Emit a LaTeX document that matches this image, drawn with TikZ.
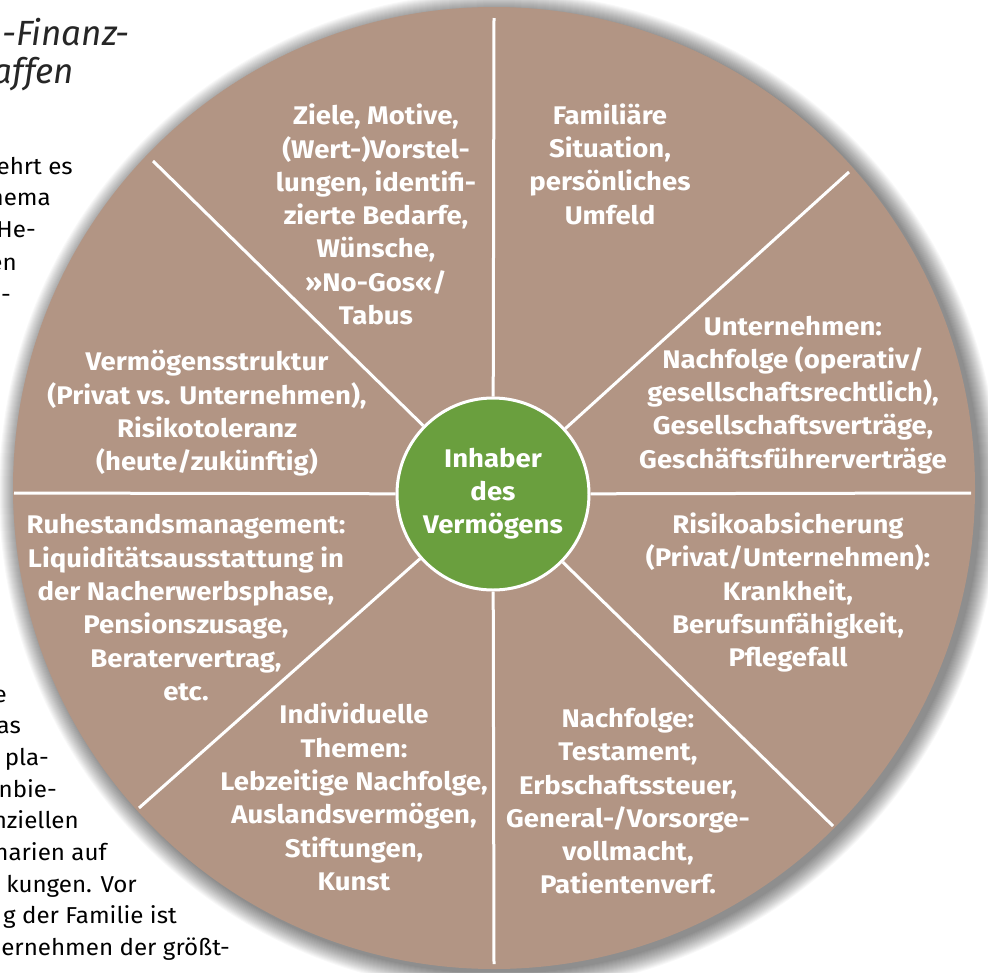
\documentclass[tikz,border=0pt]{standalone}
\usepackage{fontspec}
\setmainfont{Fira Sans}
\newfontfamily\segff[FakeStretch=1.08]{Fira Sans}
\newfontfamily\bodyff[FakeStretch=1.05]{Fira Sans}
\definecolor{brownfill}{RGB}{178,149,132}
\definecolor{hubgreen}{RGB}{106,159,62}
\newcommand\segfont{\segff\bfseries\fontsize{25.5}{33.3}\selectfont}
\newcommand\bodyfont{\bodyff\fontsize{23}{32}\selectfont}
\newcommand\headfont{\itshape\fontsize{35}{38}\selectfont}
\begin{document}
\begin{tikzpicture}[x=1pt,y=-1pt,
  seg/.style={align=center,text=white,font=\segfont,inner sep=0pt},
  spoke/.style={draw=white,line width=3pt},
  frag/.style={anchor=base east,font=\bodyfont,text=black,inner sep=0pt},
  head/.style={anchor=base east,font=\headfont,text=black!85,inner sep=0pt}]
\useasboundingbox (0,0) rectangle (988,972);
\fill[white] (0,0) rectangle (988,972);
\clip (0,0) rectangle (988,972);
% page fragments left of the disc
\node[head] (h1) at (130,45) {-Finanz-};
\node[head] (h2) at (74,83) {affen};
\node[frag] (b1) at (73,174) {ehrt es};
\node[frag] (b2) at (51,205) {hema};
\node[frag] (b3) at (36,237) {He-};
\node[frag] (b4) at (17,270) {en};
\node[frag] (b5) at (11,302) {-};
\node[frag] (c1) at (7,702) {e};
\node[frag] (c2) at (21,733) {as};
\node[frag] (c3) at (49,765) {pla-};
\node[frag] (c4) at (57,797) {nbie-};
\node[frag] (c5) at (79,828) {nziellen};
\node[frag] (c6) at (107,860) {narien auf};
\node[frag] (c7) at (137,892) {kungen. Vor};
\node[frag] (c8) at (177,923) {g der Familie ist};
\node[frag] (c9) at (230,955) {ernehmen der größt-};
% soft shadow
\foreach \r in {482,...,500}{\fill[black,fill opacity=0.028] (499,492) circle[radius=\r pt];}
% disc
\node[circle,fill=brownfill,minimum size=962pt,inner sep=0pt] (disc) at (494,488) {};
% hub
\node[circle,fill=hubgreen,draw=white,line width=3pt,minimum size=192pt,inner sep=0pt,
      align=center,text=white,font=\segfont] (hub) at (493,494)
      {\strut Inhaber\\\strut des\\\strut Vermögens};
% spokes
\coordinate (eT) at (494,18);
\coordinate (eTR) at (849,172);
\coordinate (eR) at (971,493);
\coordinate (eBR) at (833,826);
\coordinate (eB) at (494,964);
\coordinate (eBL) at (139,808);
\coordinate (eL) at (14,493);
\coordinate (eTL) at (153,161);
\foreach \e in {eT,eTR,eR,eBR,eB,eBL,eL,eTL}{\draw[spoke] (hub) -- (\e);}
% segment texts
\node[seg] (s1) at (376,218) {\strut Ziele, Motive,\\\strut (Wert-)Vorstel-\\\strut lungen, identifi-\\\strut zierte Bedarfe,\\\strut Wünsche,\\\strut »No-Gos«/\\\strut Tabus};
\node[seg] (s2) at (610,167.5) {\strut Familiäre\\\strut Situation,\\\strut persönliches\\\strut Umfeld};
\node[seg] (s3) at (793,395) {\strut Unternehmen:\\\strut Nachfolge (operativ/\\\strut gesellschaftsrechtlich),\\\strut Gesellschaftsverträge,\\\strut Geschäftsführerverträge};
\node[seg] (s4) at (788,593.5) {\strut Risikoabsicherung\\\strut (Privat/Unternehmen):\\\strut Krankheit,\\\strut Berufsunfähigkeit,\\\strut Pflegefall};
\node[seg] (s5) at (628,804) {\strut Nachfolge:\\\strut Testament,\\\strut Erbschaftssteuer,\\\strut General-/Vorsorge-\\\strut vollmacht,\\\strut Patientenverf.};
\node[seg] (s6) at (354,800.5) {\strut Individuelle\\\strut Themen:\\\strut Lebzeitige Nachfolge,\\\strut Auslandsvermögen,\\\strut Stiftungen,\\\strut Kunst};
\node[seg] (s7) at (186,610.5) {\strut Ruhestandsmanagement:\\\strut Liquiditätsausstattung in\\\strut der Nacherwerbsphase,\\\strut Pensionszusage,\\\strut Beratervertrag,\\\strut etc.};
\node[seg] (s8) at (207,414) {\strut Vermögensstruktur\\\strut (Privat vs. Unternehmen),\\\strut Risikotoleranz\\\strut (heute/zukünftig)};
\end{tikzpicture}
\end{document}
